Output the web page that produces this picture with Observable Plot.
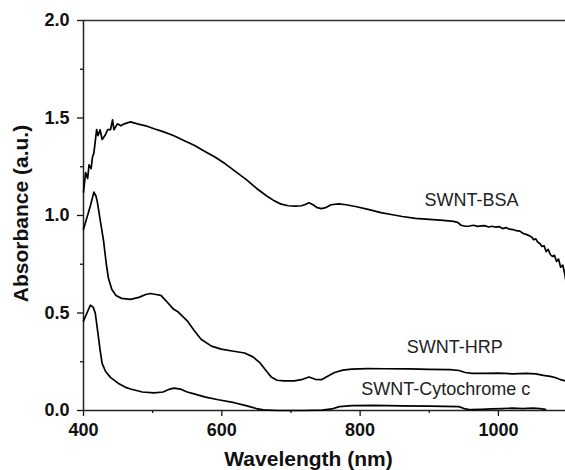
<!DOCTYPE html>
<html>
<head>
<meta charset="utf-8">
<script src="https://cdn.jsdelivr.net/npm/d3@7"></script>
<script src="https://cdn.jsdelivr.net/npm/@observablehq/plot@0.6"></script>
<style>
  html, body { margin: 0; padding: 0; background: #fff; }
  #chart { width: 565px; height: 470px; overflow: hidden; }
</style>
</head>
<body>
<div id="chart"></div>
<script>
// ---- Data ----
const bsaWavelength = [400,403,406,408,411,413,415,417,419,421,424,427,431,435,439,442,444,449,454,459,468,478,490,502,515,530,545,560,575,590,605,618,635,650,665,676,686,696,706,715,720,726,732,738,744,750,758,769,780,795,813,830,845,861,880,900,920,935,941,946,952,958,964,970,975,980,986,991,996,1001,1006,1011,1016,1021,1026,1031,1036,1041,1044,1048,1051,1054,1057,1060,1063,1066,1069,1072,1075,1078,1081,1084,1087,1090,1093,1096,1098];
const bsaAbsorbance = [1.12,1.22,1.19,1.26,1.24,1.30,1.32,1.38,1.44,1.41,1.44,1.39,1.41,1.44,1.44,1.49,1.44,1.47,1.46,1.47,1.48,1.47,1.46,1.445,1.43,1.41,1.385,1.36,1.33,1.30,1.265,1.23,1.185,1.14,1.10,1.075,1.058,1.05,1.048,1.05,1.055,1.065,1.055,1.04,1.035,1.04,1.055,1.06,1.055,1.045,1.03,1.015,1.005,0.995,0.985,0.98,0.975,0.97,0.965,0.95,0.945,0.946,0.950,0.944,0.947,0.948,0.941,0.945,0.940,0.943,0.933,0.938,0.930,0.928,0.922,0.920,0.908,0.902,0.897,0.890,0.876,0.880,0.863,0.856,0.841,0.845,0.815,0.826,0.800,0.790,0.796,0.765,0.776,0.735,0.746,0.700,0.655];

const hrpWavelength = [400,405,410,415,418,420,424,429,433,436,441,447,455,468,480,490,497,505,512,520,530,537,550,560,570,585,599,615,633,645,655,665,672,680,690,705,715,726,735,744,755,763,775,788,810,836,870,900,930,943,952,962,980,1000,1020,1040,1054,1065,1075,1083,1090,1098];
const hrpAbsorbance = [0.93,0.99,1.05,1.12,1.10,1.07,0.98,0.87,0.75,0.68,0.62,0.59,0.575,0.57,0.58,0.595,0.60,0.595,0.59,0.56,0.52,0.505,0.46,0.41,0.365,0.33,0.315,0.305,0.295,0.275,0.245,0.20,0.17,0.155,0.152,0.152,0.158,0.172,0.16,0.158,0.18,0.195,0.207,0.212,0.215,0.214,0.213,0.211,0.21,0.205,0.195,0.19,0.19,0.192,0.188,0.19,0.188,0.18,0.175,0.168,0.158,0.15];

const cytWavelength = [400,405,410,414,417,420,424,427,432,439,450,460,468,485,502,515,525,531,540,550,560,575,595,618,635,650,660,680,720,745,759,770,788,820,860,900,943,952,960,975,990,1005,1020,1035,1050,1060,1068];
const cytAbsorbance = [0.46,0.50,0.54,0.53,0.50,0.42,0.31,0.24,0.20,0.17,0.14,0.12,0.11,0.095,0.09,0.095,0.11,0.115,0.11,0.095,0.085,0.07,0.055,0.04,0.025,0.01,0.003,0,0,0.002,0.008,0.02,0.025,0.026,0.024,0.022,0.02,0.008,0.004,0.006,0.008,0.01,0.012,0.01,0.012,0.01,0.006];

const seriesNames = ["SWNT-BSA", "SWNT-HRP", "SWNT-Cytochrome c"];
const labelWavelength = [961, 937, 924];
const labelAbsorbance = [1.08, 0.326, 0.108];

const xMajorTicks = [400, 600, 800, 1000];
const xMinorTicks = [500, 700, 900];
const yMajorTicks = [0, 0.5, 1.0, 1.5, 2.0];
const yMinorTicks = [0.25, 0.75, 1.25, 1.75];

const xTitle = "Wavelength (nm)";
const yTitle = "Absorbance (a.u.)";

// ---- Build tables ----
const toRows = (ws, vs, name) => ws.map((w, i) => ({w, a: vs[i], name}));
const rows = [
  ...toRows(bsaWavelength, bsaAbsorbance, seriesNames[0]),
  ...toRows(hrpWavelength, hrpAbsorbance, seriesNames[1]),
  ...toRows(cytWavelength, cytAbsorbance, seriesNames[2])
];
const labels = seriesNames.map((n, i) => ({n, w: labelWavelength[i], a: labelAbsorbance[i]}));

const axisColor = "#222";
const fontFam = "'Liberation Sans', Arial, Helvetica, sans-serif";

const chart = Plot.plot({
  width: 565,
  height: 470,
  marginLeft: 83,
  marginTop: 20,
  marginBottom: 60,
  marginRight: 0,
  style: { fontFamily: fontFam, background: "#fff", color: "#111", overflow: "visible" },
  x: { domain: [400, 1097], label: null },
  y: { domain: [0, 2], label: null },
  marks: [
    Plot.axisX({ ticks: xMajorTicks, tickSize: 6, tickPadding: 7, tickFormat: d3.format("d"), fontSize: 18, fontWeight: "bold", label: null, strokeWidth: 1.3 }),
    Plot.axisX({ ticks: xMinorTicks, tickSize: 3, tickFormat: () => "", label: null, strokeWidth: 1.3 }),
    Plot.axisY({ ticks: yMajorTicks, tickSize: 6, tickPadding: 8, tickFormat: d3.format(".1f"), fontSize: 18, fontWeight: "bold", label: null, strokeWidth: 1.3 }),
    Plot.axisY({ ticks: yMinorTicks, tickSize: 3, tickFormat: () => "", label: null, strokeWidth: 1.3 }),
    Plot.ruleX([400], { stroke: axisColor, strokeWidth: 1.5 }),
    Plot.ruleY([0], { stroke: axisColor, strokeWidth: 1.5 }),
    Plot.ruleY([2], { stroke: "#333", strokeWidth: 1.5 }),
    Plot.line(rows, { x: "w", y: "a", z: "name", stroke: "#000", strokeWidth: 1.7, curve: "linear" }),
    Plot.text(labels, { x: "w", y: "a", text: "n", fontSize: 18, fill: "#222", textAnchor: "middle", lineAnchor: "middle" }),
    Plot.text([xTitle], { frameAnchor: "bottom", dy: 49, dx: -16, fontSize: 21, fontWeight: "bold", fill: "#111", textAnchor: "middle", lineAnchor: "middle" }),
    Plot.text([yTitle], { frameAnchor: "left", dx: -62, dy: -2, rotate: -90, fontSize: 21, fontWeight: "bold", fill: "#111", textAnchor: "middle", lineAnchor: "middle" })
  ]
});
document.getElementById("chart").appendChild(chart);
</script>
</body>
</html>
